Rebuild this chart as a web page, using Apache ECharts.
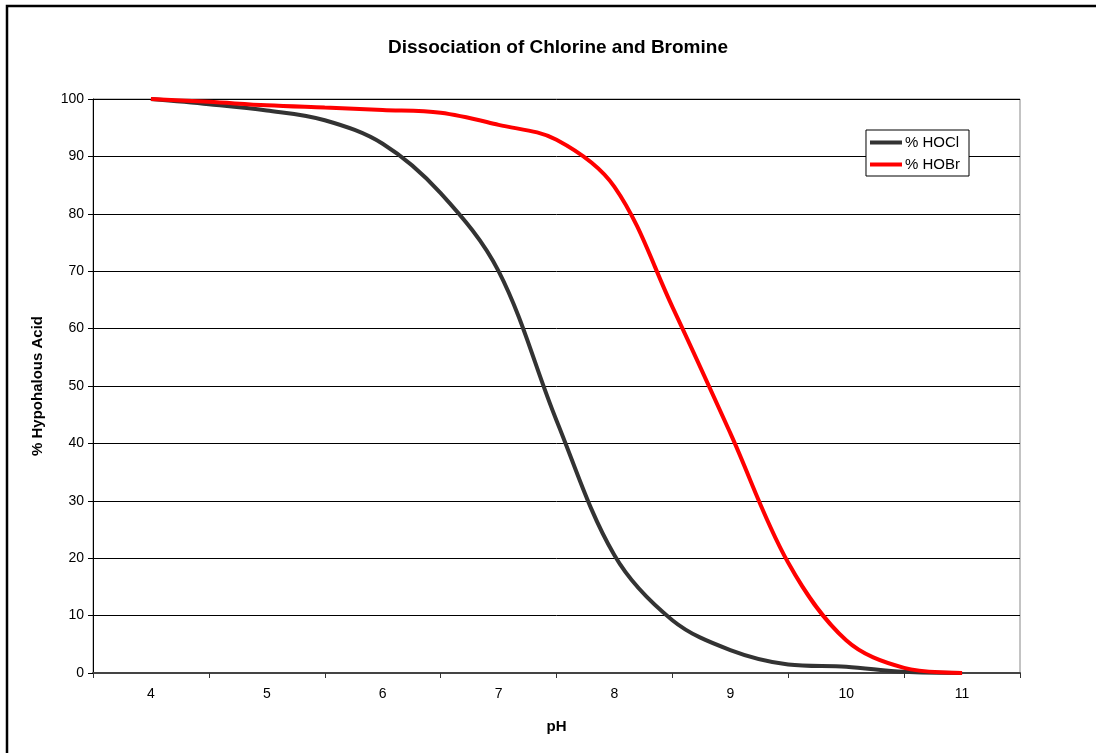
<!DOCTYPE html>
<html>
<head>
<meta charset="utf-8">
<script src="https://cdn.jsdelivr.net/npm/echarts@6/dist/echarts.min.js"></script>
<style>
  html, body { margin: 0; padding: 0; background: #fff; }
  #chart { width: 1096px; height: 753px; }
</style>
</head>
<body>
<div id="chart"></div>
<script>
// pH steps and % undissociated acid
var phValues = [4, 4.5, 5, 5.5, 6, 6.5, 7, 7.5, 8, 8.5, 9, 9.5, 10, 10.5, 11];
var hocl = [100, 99.1, 98.0, 96.3, 92.2, 83.6, 70.0, 44.0, 20.5, 9.2, 4.0, 1.5, 1.1, 0.2, 0];
var hobr = [100, 99.5, 98.9, 98.5, 98.1, 97.6, 95.5, 92.9, 84.7, 63.8, 41.8, 19.2, 5.7, 0.9, 0];
var xLabels = [4, 5, 6, 7, 8, 9, 10, 11];
var xTicks = [3.5, 4.5, 5.5, 6.5, 7.5, 8.5, 9.5, 10.5, 11.5];

function pairs(xs, ys) {
    var out = [];
    for (var i = 0; i < xs.length; i++) out.push([xs[i], ys[i]]);
    return out;
}

var myChart = echarts.init(document.getElementById('chart'));

var font = 'Liberation Sans, Arial, sans-serif';

var option = {
    backgroundColor: '#fff',
    animation: false,
    textStyle: { fontFamily: font },
    title: {
        text: 'Dissociation of Chlorine and Bromine',
        left: 553, top: 33, textAlign: 'center',
        textStyle: { fontFamily: font, fontSize: 19, fontWeight: 'bold', color: '#000' }
    },
    graphic: [{
        type: 'rect', silent: true, z: 100,
        shape: { x: 7, y: 6, width: 1200, height: 900 },
        style: { fill: 'none', stroke: '#000', lineWidth: 2.5 }
    }],
    legend: {
        right: 127, top: 130,
        orient: 'vertical',
        itemWidth: 32, itemHeight: 4, itemGap: 7,
        padding: [5, 9, 4, 4],
        borderColor: '#000', borderWidth: 1,
        backgroundColor: '#fff',
        textStyle: { fontFamily: font, fontSize: 15, color: '#000', padding: [0, 0, 0, -2] },
        icon: 'rect',
        data: ['% HOCl', '% HOBr']
    },
    grid: { left: 93, right: 76, top: 99, bottom: 80, show: true, borderColor: '#888', borderWidth: 1 },
    xAxis: {
        type: 'value', min: 3.5, max: 11.5,
        name: 'pH', nameLocation: 'middle', nameGap: 46,
        nameTextStyle: { fontFamily: font, fontSize: 15, fontWeight: 'bold', color: '#000' },
        axisLine: { lineStyle: { color: '#444', width: 2 } },
        axisTick: { show: true, length: 5, customValues: xTicks, lineStyle: { color: '#333' } },
        axisLabel: { customValues: xLabels, margin: 14, fontSize: 14, color: '#000', fontFamily: font },
        splitLine: { show: false }
    },
    yAxis: {
        type: 'value', min: 0, max: 100, interval: 10,
        name: '% Hypohalous Acid', nameLocation: 'middle', nameGap: 48,
        nameTextStyle: { fontFamily: font, fontSize: 15, fontWeight: 'bold', color: '#000' },
        axisLine: { show: true, lineStyle: { color: '#000', width: 1 } },
        axisTick: { show: true, length: 5, lineStyle: { color: '#000' } },
        axisLabel: { margin: 9, fontSize: 14, color: '#000', fontFamily: font },
        splitLine: { show: true, lineStyle: { color: '#000', width: 1 } }
    },
    series: [{
        name: '% HOCl', type: 'line', smooth: 0.35, showSymbol: false,
        data: pairs(phValues, hocl),
        itemStyle: { color: '#333' },
        lineStyle: { color: '#333', width: 4 }
    }, {
        name: '% HOBr', type: 'line', smooth: 0.35, showSymbol: false,
        data: pairs(phValues, hobr),
        itemStyle: { color: '#ff0000' },
        lineStyle: { color: '#ff0000', width: 4 }
    }]
};

myChart.setOption(option);
</script>
</body>
</html>
